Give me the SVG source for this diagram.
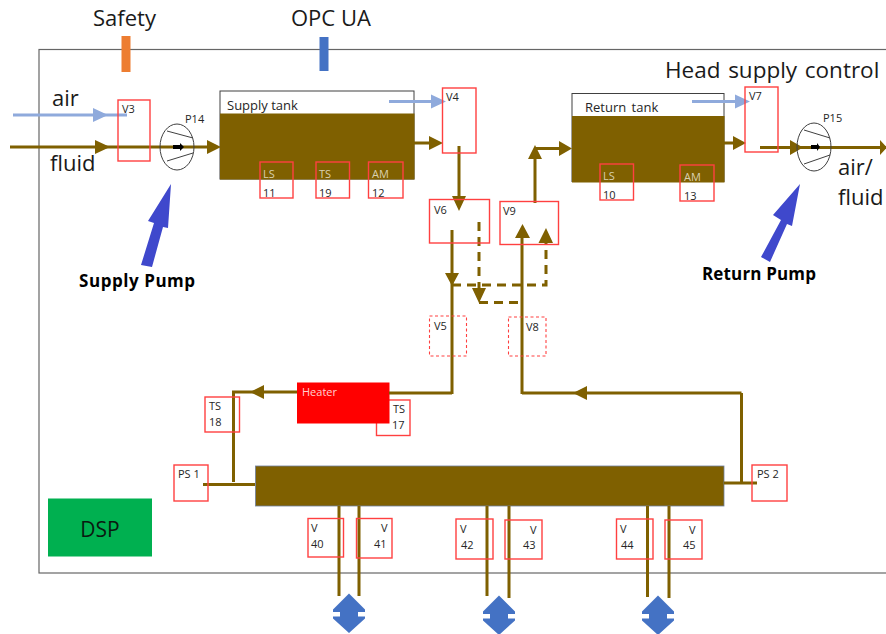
<svg xmlns="http://www.w3.org/2000/svg" width="886" height="634" viewBox="0 0 886 634">
<style>
text{font-family:"Open Sans","Noto Sans","Liberation Sans",sans-serif;fill:#262626}
.s{font-size:11px}.m{font-size:13px}.l{font-size:22px;fill:#1a1a1a}
.t{font-size:22.500px;word-spacing:1.800px;fill:#1a1a1a}
.b{font-size:17px;font-weight:700;fill:#000}
.r{fill:none;stroke:#ff4040;stroke-width:1.400}
.d{stroke-dasharray:3 2.500;stroke-width:1.100}
.p{fill:none;stroke:#7f6000;stroke-width:3}
.dash{stroke-dasharray:9 6}
.a{fill:none;stroke:#8faadc;stroke-width:3}
.h{fill:#7f6000}.ha{fill:#8faadc}
.pl{fill:none;stroke:#404040;stroke-width:1}
.lt{fill:#d9d0b0}
.big{fill:#4472c4}.ar{fill:#3f48cc}
</style>
<defs>
<path id="dbl" d="M0 0L16 16V18.500H9V23H16V25L0 39.500L-16 25V23H-9V18.500H-16V16Z"/>
</defs>
<rect id="frame" x="39" y="49.500" width="860" height="523.500" fill="none" stroke="#666" stroke-width="1.200"/>
<g id="safety"><rect x="121.500" y="36" width="9" height="36" fill="#ed7d31"/><text class="l" x="93" y="26">Safety</text></g>
<g id="opcua"><rect x="319.500" y="37" width="9" height="34" fill="#4472c4"/><text class="l" x="291" y="26">OPC UA</text></g>
<text id="title" class="t" x="665" y="78">Head supply control</text>
<g id="supply-tank"><rect x="220" y="91" width="194" height="88" fill="#fff" stroke="#404040" stroke-width="1"/><rect x="220" y="113.500" width="194.500" height="66" class="h"/><text class="m" x="227" y="110">Supply tank</text></g>
<g id="return-tank"><rect x="572" y="93.500" width="152" height="88" fill="#fff" stroke="#404040" stroke-width="1"/><rect x="572" y="116" width="152.500" height="66.500" class="h"/><text class="m" x="585" y="112" style="word-spacing:2px">Return tank</text></g>
<g id="manifold"><rect x="255.500" y="466" width="468.500" height="40" class="h" stroke="#6f7f9f" stroke-width=".8"/></g>
<g id="ts17"><rect class="r" x="376.500" y="400" width="33.500" height="35.500"/><text class="s" x="393" y="413">TS</text><text class="s" x="392" y="429">17</text></g>
<g id="heater"><rect x="297" y="382.500" width="92.500" height="41" fill="#f00"/><text class="s" x="302" y="396" style="fill:#ffd0d0">Heater</text></g>
<g id="dsp"><rect x="48" y="498.500" width="104" height="58" fill="#00b050"/><text x="100" y="537" text-anchor="middle" style="font-size:21px;fill:#0a1a10">DSP</text></g>
<g id="connectors">
<path class="a" d="M13 115H127M389 101.500H432M692 101.500H736"/>
<path class="ha" d="M93 108L108 115L93 122ZM431 94.500L446 101.500L431 108.500ZM735 94.500L750 101.500L735 108.500Z"/>
<path class="p" d="M10 147H212M414 143H430M459 146V198M452 230V394M452 393H389M297 392H233.500V482M203 484.500H255M522 394V236M535 203V157M535 148.500H560M724 143H735M760 147.500H886M741.500 393H522M741.500 393V482M724 483H757M339 506V596M359 506V596M487 506V596M509 506V598M647.500 506V597M669 506V598"/>
<path class="p dash" d="M479 222V290M479 302.500H522M452 285H546V240"/>
<g class="h">
<path d="M95 140L110 147L95 154ZM207 140L221 147L207 154ZM429 136L443 143L429 150ZM452 196H466L459 211ZM445 273H459L452 286ZM472 288H486L479 303ZM515 238L522.500 224L530 238ZM538.500 243L546 228L553 243ZM528 159L535 145L542 159ZM559 141L572 148.500L559 156ZM733 136L746 143L733 150ZM790 140L803 147.500L790 155ZM880 140L887 147.500L880 155ZM264 385V399L250 392ZM587 386V400L573 393Z"/>
</g>
</g>
<g id="p14"><ellipse cx="177" cy="147" rx="17" ry="23" class="pl"/><path class="pl" d="M167 131L193 138M167 161L193 153"/><path d="M173 145H180V143L184 147L180 151V149H173Z"/><text class="s" x="185" y="123">P14</text></g>
<g id="p15"><ellipse cx="814" cy="147" rx="17" ry="24" class="pl"/><path class="pl" d="M804 130L830 138M804 164L830 155"/><path d="M811 145H817V143L820 147L817 151V149H811Z"/><text class="s" x="823" y="122">P15</text></g>
<g id="supply-pump"><path class="ar" d="M141 265L152 267L163 227L168 228L171 184L148 221L154 223Z"/><text class="b" x="79" y="287" style="letter-spacing:.55px">Supply Pump</text></g>
<g id="return-pump"><path class="ar" d="M761 257L770 262L787 224L792 226L800 184L773 215L781 220Z"/><text class="b" x="702" y="280" style="letter-spacing:.15px">Return Pump</text></g>
<text id="lbl-air" class="l" x="52" y="106">air</text>
<text id="lbl-fluid" class="l" x="50" y="171">fluid</text>
<text id="lbl-airfluid" class="l" x="838" y="175">air/<tspan x="838" y="205">fluid</tspan></text>
<g id="v3"><rect class="r" x="118" y="100" width="32" height="61"/><text class="s" x="122" y="113">V3</text></g>
<g id="v4"><rect class="r" x="442.500" y="88" width="33.500" height="65"/><text class="s" x="446" y="101">V4</text></g>
<g id="v7"><rect class="r" x="745" y="87" width="33" height="65"/><text class="s" x="749" y="100">V7</text></g>
<g id="v6"><rect class="r" x="429.500" y="199.500" width="60" height="43.500"/><text class="s" x="434" y="214">V6</text></g>
<g id="v9"><rect class="r" x="500" y="201.500" width="58.500" height="43"/><text class="s" x="503" y="215">V9</text></g>
<g id="v5"><rect class="r d" x="429.500" y="316" width="37" height="40"/><text class="s" x="434" y="330">V5</text></g>
<g id="v8"><rect class="r d" x="508.500" y="317" width="37.500" height="39"/><text class="s" x="526" y="331">V8</text></g>
<g id="ls11"><rect class="r" x="260" y="162" width="33" height="36"/><text class="s" x="263" y="178" style="fill:#d9d0b0">LS</text><text class="s" x="263" y="197">11</text></g>
<g id="ts19"><rect class="r" x="316" y="162" width="33.500" height="36"/><text class="s" x="319" y="178" style="fill:#d9d0b0">TS</text><text class="s" x="319" y="197">19</text></g>
<g id="am12"><rect class="r" x="368.500" y="162" width="34.500" height="36"/><text class="s" x="372" y="178" style="fill:#d9d0b0">AM</text><text class="s" x="372" y="197">12</text></g>
<g id="ls10"><rect class="r" x="600" y="164" width="33.500" height="36"/><text class="s" x="603" y="180" style="fill:#d9d0b0">LS</text><text class="s" x="603" y="199">10</text></g>
<g id="am13"><rect class="r" x="680" y="165" width="34" height="36"/><text class="s" x="684" y="181" style="fill:#d9d0b0">AM</text><text class="s" x="684" y="200">13</text></g>
<g id="ts18"><rect class="r" x="205" y="397" width="34.500" height="35"/><text class="s" x="209" y="410">TS</text><text class="s" x="209" y="426">18</text></g>
<g id="ps1"><rect class="r" x="174" y="465" width="34" height="36"/><text class="s" x="178" y="478">PS 1</text></g>
<g id="ps2"><rect class="r" x="752" y="465" width="35" height="36"/><text class="s" x="757" y="478">PS 2</text></g>
<g id="v40"><rect class="r" x="308" y="518.500" width="35.500" height="38.500"/><text class="s" x="311" y="532">V</text><text class="s" x="311" y="548">40</text></g>
<g id="v41"><rect class="r" x="356.500" y="518.500" width="35.500" height="39.500"/><text class="s" x="381" y="532">V</text><text class="s" x="374" y="548">41</text></g>
<g id="v42"><rect class="r" x="456" y="519" width="37" height="40"/><text class="s" x="460" y="533">V</text><text class="s" x="461" y="549">42</text></g>
<g id="v43"><rect class="r" x="505" y="520" width="37" height="39"/><text class="s" x="530" y="534">V</text><text class="s" x="523" y="549">43</text></g>
<g id="v44"><rect class="r" x="616.500" y="519" width="36.500" height="40"/><text class="s" x="620" y="533">V</text><text class="s" x="621" y="549">44</text></g>
<g id="v45"><rect class="r" x="665" y="520" width="37" height="39"/><text class="s" x="689" y="534">V</text><text class="s" x="683" y="549">45</text></g>
<g id="port1"><use href="#dbl" x="349" y="593.500" class="big"/></g>
<g id="port2"><use href="#dbl" x="499" y="595.500" class="big"/></g>
<g id="port3"><use href="#dbl" x="658" y="595.500" class="big"/></g>
</svg>
